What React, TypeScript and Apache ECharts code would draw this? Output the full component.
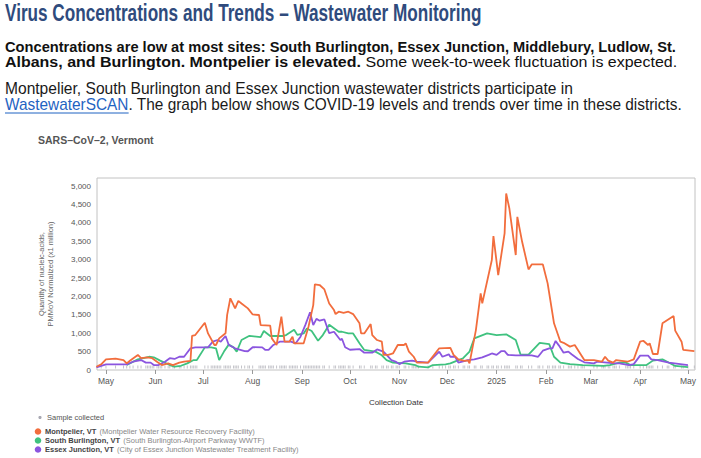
import React, { useEffect, useRef } from 'react';
import * as echarts from 'echarts';

// ---- Data: SARS-CoV-2 concentrations (PMMoV normalized, x1 million) ----

const MONTPELIER: [string, number][] = [
  ['2024-04-25', 90], ['2024-04-28', 155], ['2024-05-01', 290], ['2024-05-07', 310],
  ['2024-05-12', 270], ['2024-05-14', 180], ['2024-05-16', 250], ['2024-05-21', 410],
  ['2024-05-23', 320], ['2024-05-27', 345], ['2024-05-30', 320], ['2024-06-02', 225],
  ['2024-06-05', 135], ['2024-06-09', 180], ['2024-06-12', 135], ['2024-06-16', 200],
  ['2024-06-19', 225], ['2024-06-23', 250], ['2024-06-24', 930], ['2024-06-26', 950],
  ['2024-07-02', 1285], ['2024-07-04', 995], ['2024-07-08', 680], ['2024-07-09', 680],
  ['2024-07-11', 860], ['2024-07-15', 1000], ['2024-07-16', 1500], ['2024-07-18', 1950],
  ['2024-07-21', 1675], ['2024-07-23', 1880], ['2024-07-25', 1810], ['2024-07-29', 1675],
  ['2024-08-01', 1510], ['2024-08-05', 1495], ['2024-08-06', 1220], ['2024-08-12', 1205],
  ['2024-08-13', 860], ['2024-08-16', 680], ['2024-08-19', 1450], ['2024-08-21', 770],
  ['2024-08-24', 770], ['2024-08-26', 905], ['2024-08-27', 725], ['2024-09-02', 725],
  ['2024-09-05', 1175], ['2024-09-08', 1765], ['2024-09-09', 2330], ['2024-09-12', 2310],
  ['2024-09-15', 2190], ['2024-09-18', 1810], ['2024-09-21', 1630], ['2024-09-22', 1520],
  ['2024-09-24', 1585], ['2024-09-27', 1555], ['2024-09-30', 1585], ['2024-10-03', 1520],
  ['2024-10-07', 1270], ['2024-10-08', 995], ['2024-10-10', 995], ['2024-10-14', 1250],
  ['2024-10-15', 950], ['2024-10-18', 815], ['2024-10-21', 770], ['2024-10-22', 410],
  ['2024-10-25', 410], ['2024-10-28', 450], ['2024-10-31', 680], ['2024-11-04', 680],
  ['2024-11-05', 725], ['2024-11-07', 500], ['2024-11-10', 360], ['2024-11-12', 200],
  ['2024-11-19', 200], ['2024-11-26', 590], ['2024-12-03', 600], ['2024-12-05', 410],
  ['2024-12-08', 290], ['2024-12-12', 250], ['2024-12-14', 260], ['2024-12-15', 180],
  ['2024-12-19', 1085], ['2024-12-22', 2085], ['2024-12-23', 1810], ['2024-12-29', 2990],
  ['2024-12-30', 3640], ['2025-01-02', 2580], ['2025-01-06', 3715], ['2025-01-07', 4800],
  ['2025-01-09', 4390], ['2025-01-13', 3125], ['2025-01-14', 4165], ['2025-01-17', 3485],
  ['2025-01-21', 2735], ['2025-01-23', 2870], ['2025-01-30', 2870], ['2025-02-02', 2355],
  ['2025-02-06', 1270], ['2025-02-10', 770], ['2025-02-12', 740], ['2025-02-16', 635],
  ['2025-02-19', 680], ['2025-02-23', 410], ['2025-02-25', 270], ['2025-03-03', 270],
  ['2025-03-08', 225], ['2025-03-10', 360], ['2025-03-12', 255], ['2025-03-15', 200],
  ['2025-03-17', 270], ['2025-03-24', 225], ['2025-03-28', 290], ['2025-04-01', 770],
  ['2025-04-03', 795], ['2025-04-06', 680], ['2025-04-07', 725], ['2025-04-09', 435],
  ['2025-04-12', 435], ['2025-04-15', 1270], ['2025-04-22', 1465], ['2025-04-23', 1070],
  ['2025-04-27', 770], ['2025-04-28', 545], ['2025-05-05', 515],
];

const SOUTH_BURLINGTON: [string, number][] = [
  ['2024-05-14', 135], ['2024-05-21', 290], ['2024-05-28', 360], ['2024-05-31', 345],
  ['2024-06-04', 255], ['2024-06-10', 135], ['2024-06-13', 90], ['2024-06-17', 115],
  ['2024-06-21', 180], ['2024-06-25', 270], ['2024-06-27', 270], ['2024-07-02', 615],
  ['2024-07-06', 615], ['2024-07-09', 590], ['2024-07-11', 270], ['2024-07-14', 500],
  ['2024-07-17', 690], ['2024-07-20', 615], ['2024-07-22', 500], ['2024-07-25', 815],
  ['2024-07-30', 930], ['2024-08-06', 895], ['2024-08-08', 1060], ['2024-08-12', 925],
  ['2024-08-20', 925], ['2024-08-22', 950], ['2024-08-27', 1095], ['2024-08-29', 955],
  ['2024-09-02', 995], ['2024-09-04', 1130], ['2024-09-07', 1060], ['2024-09-11', 795],
  ['2024-09-14', 950], ['2024-09-18', 1230], ['2024-09-24', 1040], ['2024-09-26', 1040],
  ['2024-09-30', 995], ['2024-10-03', 995], ['2024-10-07', 725], ['2024-10-10', 545],
  ['2024-10-17', 500], ['2024-10-21', 400], ['2024-10-24', 270], ['2024-10-28', 200],
  ['2024-11-05', 180], ['2024-11-11', 135], ['2024-11-13', 90], ['2024-11-19', 70],
  ['2024-11-22', 135], ['2024-11-30', 155], ['2024-12-03', 180], ['2024-12-08', 270],
  ['2024-12-11', 320], ['2024-12-15', 500], ['2024-12-18', 860], ['2024-12-26', 995],
  ['2025-01-01', 950], ['2025-01-07', 970], ['2025-01-13', 815], ['2025-01-16', 420],
  ['2025-01-21', 420], ['2025-01-28', 740], ['2025-02-03', 705], ['2025-02-06', 360],
  ['2025-02-10', 200], ['2025-02-16', 160], ['2025-02-24', 135], ['2025-03-09', 110],
  ['2025-03-13', 135], ['2025-03-19', 200], ['2025-03-23', 200], ['2025-03-26', 135],
  ['2025-04-05', 135], ['2025-04-09', 255], ['2025-04-15', 290], ['2025-04-18', 225],
  ['2025-04-23', 110], ['2025-05-01', 80],
];

const ESSEX_JUNCTION: [string, number][] = [
  ['2024-04-25', 70], ['2024-05-01', 155], ['2024-05-12', 155], ['2024-05-14', 155],
  ['2024-05-18', 225], ['2024-05-23', 270], ['2024-05-26', 200], ['2024-05-29', 200],
  ['2024-05-31', 135], ['2024-06-03', 135], ['2024-06-07', 225], ['2024-06-10', 320],
  ['2024-06-13', 300], ['2024-06-16', 360], ['2024-06-19', 360], ['2024-06-23', 590],
  ['2024-06-26', 615], ['2024-07-04', 615], ['2024-07-07', 770], ['2024-07-10', 815],
  ['2024-07-12', 770], ['2024-07-15', 925], ['2024-07-17', 680], ['2024-07-21', 590],
  ['2024-07-27', 515], ['2024-07-29', 510], ['2024-08-01', 620], ['2024-08-07', 615],
  ['2024-08-09', 545], ['2024-08-11', 545], ['2024-08-14', 680], ['2024-08-18', 770],
  ['2024-08-25', 770], ['2024-08-28', 725], ['2024-08-31', 905], ['2024-09-03', 1220],
  ['2024-09-06', 1570], ['2024-09-08', 1220], ['2024-09-10', 1390], ['2024-09-12', 1340],
  ['2024-09-15', 1375], ['2024-09-18', 1000], ['2024-09-21', 1040], ['2024-09-25', 815],
  ['2024-09-26', 850], ['2024-09-28', 620], ['2024-10-01', 550], ['2024-10-07', 570],
  ['2024-10-10', 470], ['2024-10-15', 470], ['2024-10-18', 560], ['2024-10-22', 500],
  ['2024-10-24', 410], ['2024-10-27', 270], ['2024-10-30', 220], ['2024-11-01', 160],
  ['2024-11-04', 225], ['2024-11-09', 255], ['2024-11-12', 225], ['2024-11-19', 200],
  ['2024-11-26', 500], ['2024-11-28', 360], ['2024-12-02', 425], ['2024-12-03', 360],
  ['2024-12-06', 360], ['2024-12-08', 200], ['2024-12-14', 270], ['2024-12-18', 290],
  ['2024-12-23', 345], ['2024-12-27', 410], ['2024-12-29', 450], ['2025-01-01', 410],
  ['2025-01-04', 515], ['2025-01-06', 515], ['2025-01-08', 410], ['2025-01-13', 400],
  ['2025-01-23', 400], ['2025-01-27', 360], ['2025-01-30', 525], ['2025-02-03', 590],
  ['2025-02-05', 590], ['2025-02-07', 790], ['2025-02-09', 670], ['2025-02-12', 470],
  ['2025-02-15', 500], ['2025-02-17', 430], ['2025-02-21', 300], ['2025-02-25', 210],
  ['2025-03-03', 180], ['2025-03-05', 225], ['2025-03-16', 180], ['2025-03-19', 180],
  ['2025-03-25', 135], ['2025-03-28', 160], ['2025-04-01', 390], ['2025-04-06', 390],
  ['2025-04-08', 290], ['2025-04-12', 270], ['2025-04-19', 200], ['2025-05-01', 135],
];

// Month ticks on the date axis and their labels
const MONTH_TICKS = [
  '2024-05-01', '2024-06-01', '2024-07-01', '2024-08-01', '2024-09-01', '2024-10-01',
  '2024-11-01', '2024-12-01', '2025-01-01', '2025-02-01', '2025-03-01', '2025-04-01',
  '2025-05-01',
];
const MONTH_LABELS = ['May', 'Jun', 'Jul', 'Aug', 'Sep', 'Oct', 'Nov', 'Dec', '2025', 'Feb', 'Mar', 'Apr', 'May'];

const X_MIN = '2024-04-25T09:00:00Z';
const X_MAX = '2025-05-05T10:00:00Z';
const Y_MAX = 5220;
const Y_STEP = 500;

const SITES = [
  { key: 'Montpelier, VT', facility: '(Montpelier Water Resource Recovery Facility)', color: '#f26d3d', data: MONTPELIER },
  { key: 'South Burlington, VT', facility: '(South Burlington-Airport Parkway WWTF)', color: '#3fc27f', data: SOUTH_BURLINGTON },
  { key: 'Essex Junction, VT', facility: '(City of Essex Junction Wastewater Treatment Facility)', color: '#8b55df', data: ESSEX_JUNCTION },
];

// Every date on which any site reported a sample
const SAMPLE_DATES = Array.from(
  new Set([...MONTPELIER, ...SOUTH_BURLINGTON, ...ESSEX_JUNCTION].map(([d]) => d))
).sort();

const HEADER_FAMILY = "'Liberation Sans Narrow', 'Liberation Sans', Arial, sans-serif";
const CHART_FAMILY = "'Liberation Sans', Arial, Helvetica, sans-serif";

type Seg = { text: string; weight: 'bold' | 'normal'; color: string; size: number };

// Build a single-line rich text element stretched/condensed to span [x, right]
function fittedLine(segs: Seg[], x: number, y: number, right: number, family: string) {
  const ctx = document.createElement('canvas').getContext('2d')!;
  let total = 0;
  const widths = segs.map((s) => {
    ctx.font = `${s.weight} ${s.size}px ${family}`;
    const w = ctx.measureText(s.text).width;
    total += w;
    return w;
  });
  const scaleX = (right - x) / total;
  const rich: Record<string, any> = {};
  let text = '';
  segs.forEach((s, i) => {
    rich['s' + i] = { fontWeight: s.weight, fontSize: s.size, fontFamily: family, fill: s.color };
    text += `{s${i}|${s.text}}`;
  });
  return {
    el: {
      type: 'text',
      x,
      y,
      scaleX,
      silent: true,
      style: { text, rich, align: 'left', verticalAlign: 'middle', fontFamily: family },
    },
    widths,
    scaleX,
  };
}

export default function App() {
  const ref = useRef<HTMLDivElement>(null);

  useEffect(() => {
    if (!ref.current) return;
    const chart = echarts.init(ref.current, undefined, { renderer: 'svg' });

    const tickValues = MONTH_TICKS.map((d) => Date.parse(d));
    const labelByTick = new Map(tickValues.map((t, i) => [t, MONTH_LABELS[i]]));

    const TITLE_BLUE = '#2f4b7d';
    const LINK_BLUE = '#1f63c2';

    const title = fittedLine(
      [{ text: 'Virus Concentrations and Trends – Wastewater Monitoring', weight: 'bold', color: TITLE_BLUE, size: 23 }],
      5, 13.5, 482, HEADER_FAMILY
    );
    const line2 = fittedLine(
      [{ text: 'Concentrations are low at most sites: South Burlington, Essex Junction, Middlebury, Ludlow, St.', weight: 'bold', color: '#111', size: 15.5 }],
      5, 46, 676, HEADER_FAMILY
    );
    const line3 = fittedLine(
      [
        { text: 'Albans, and Burlington. Montpelier is elevated.', weight: 'bold', color: '#111', size: 15.5 },
        { text: ' Some week-to-week fluctuation is expected.', weight: 'normal', color: '#111', size: 15.5 },
      ],
      5, 62, 677, HEADER_FAMILY
    );
    const line4 = fittedLine(
      [{ text: 'Montpelier, South Burlington and Essex Junction wastewater districts participate in', weight: 'normal', color: '#1a1a1a', size: 16 }],
      5, 88.5, 573, HEADER_FAMILY
    );
    const line5 = fittedLine(
      [
        { text: 'WastewaterSCAN', weight: 'normal', color: LINK_BLUE, size: 16 },
        { text: '. The graph below shows COVID-19 levels and trends over time in these districts.', weight: 'normal', color: '#1a1a1a', size: 16 },
      ],
      5, 104.5, 683, HEADER_FAMILY
    );
    const linkEnd = 5 + line5.widths[0] * line5.scaleX;

    const legendY = [431.5, 440.5, 449.5];
    const legendEls: any[] = [
      { type: 'circle', silent: true, shape: { cx: 40, cy: 417.5, r: 1.6 }, style: { fill: '#a9a9b3' } },
      {
        type: 'text', x: 47, y: 417.5, silent: true,
        style: { text: 'Sample collected', fontSize: 7.5, fontFamily: CHART_FAMILY, fill: '#555', verticalAlign: 'middle' },
      },
    ];
    SITES.forEach((s, i) => {
      legendEls.push({ type: 'circle', silent: true, shape: { cx: 38, cy: legendY[i], r: 3.3 }, style: { fill: s.color } });
      legendEls.push({
        type: 'text', x: 45, y: legendY[i], silent: true,
        style: {
          text: `{b|${s.key}} {n|${s.facility}}`,
          verticalAlign: 'middle',
          rich: {
            b: { fontSize: 7.5, fontWeight: 'bold', fill: '#444', fontFamily: CHART_FAMILY },
            n: { fontSize: 7.5, fill: '#888', fontFamily: CHART_FAMILY },
          },
        },
      });
    });

    const option: any = {
      animation: false,
      backgroundColor: '#ffffff',
      grid: {
        left: 97, right: 6, top: 178, bottom: 88,
        show: true, borderColor: '#c2c2c2', borderWidth: 1, backgroundColor: 'transparent',
      },
      // Dates are plotted as timestamps on a numeric axis so ticks can sit on month starts
      xAxis: {
        type: 'value',
        min: Date.parse(X_MIN),
        max: Date.parse(X_MAX),
        name: 'Collection Date',
        nameLocation: 'middle',
        nameGap: 28,
        nameTextStyle: { fontSize: 8, color: '#333', fontFamily: CHART_FAMILY },
        axisLine: { show: false },
        axisTick: { show: true, customValues: tickValues, length: 4, lineStyle: { color: '#999' } },
        axisLabel: {
          customValues: tickValues,
          formatter: (v: number) => labelByTick.get(v) ?? '',
          fontSize: 8.5, color: '#555', margin: 6, fontFamily: CHART_FAMILY,
          showMinLabel: true, showMaxLabel: true,
        },
        splitLine: { show: false },
      },
      yAxis: {
        type: 'value',
        min: 0,
        max: Y_MAX,
        interval: Y_STEP,
        axisLine: { show: false },
        axisTick: { show: false },
        splitLine: { show: false },
        axisLabel: {
          formatter: (v: number) => (v % Y_STEP === 0 ? v.toLocaleString('en-US') : ''),
          fontSize: 8, color: '#555', margin: 6, fontFamily: CHART_FAMILY,
        },
      },
      series: [
        {
          type: 'scatter',
          name: 'Sample collected',
          silent: true,
          data: SAMPLE_DATES.map((d) => [Date.parse(d), 0]),
          symbol: 'rect',
          symbolSize: [1, 3],
          symbolOffset: [0, -3],
          itemStyle: { color: '#b4b4bc' },
          z: 1,
        },
        ...[SITES[1], SITES[2], SITES[0]].map((s, i) => ({
          type: 'line',
          name: s.key,
          data: s.data.map(([d, v]) => [Date.parse(d), v]),
          showSymbol: false,
          symbol: 'none',
          lineStyle: { width: 1.8, color: s.color },
          itemStyle: { color: s.color },
          z: 3 + i,
        })),
      ],
      graphic: [
        title.el,
        line2.el,
        line3.el,
        line4.el,
        line5.el,
        {
          type: 'line', silent: true,
          shape: { x1: 5, y1: 113, x2: linkEnd, y2: 113 },
          style: { stroke: LINK_BLUE, lineWidth: 1 },
        },
        {
          type: 'text', x: 38, y: 140, silent: true,
          style: { text: 'SARS–CoV–2, Vermont', fontSize: 10.5, fontWeight: 'bold', fill: '#555', fontFamily: CHART_FAMILY, verticalAlign: 'middle' },
        },
        {
          type: 'text', x: 46, y: 274, rotation: Math.PI / 2, silent: true,
          style: {
            text: 'Quantity of nucleic-acids,\nPMMoV Normalized (x1 million)',
            fontSize: 7.5, lineHeight: 8.5, fill: '#666', fontFamily: CHART_FAMILY,
            align: 'center', verticalAlign: 'middle',
          },
        },
        ...legendEls,
      ],
    };

    chart.setOption(option);
    return () => chart.dispose();
  }, []);

  return (
    <div
      ref={ref}
      style={{ position: 'absolute', left: 0, top: 0, width: 701, height: 458, background: '#fff' }}
    />
  );
}
